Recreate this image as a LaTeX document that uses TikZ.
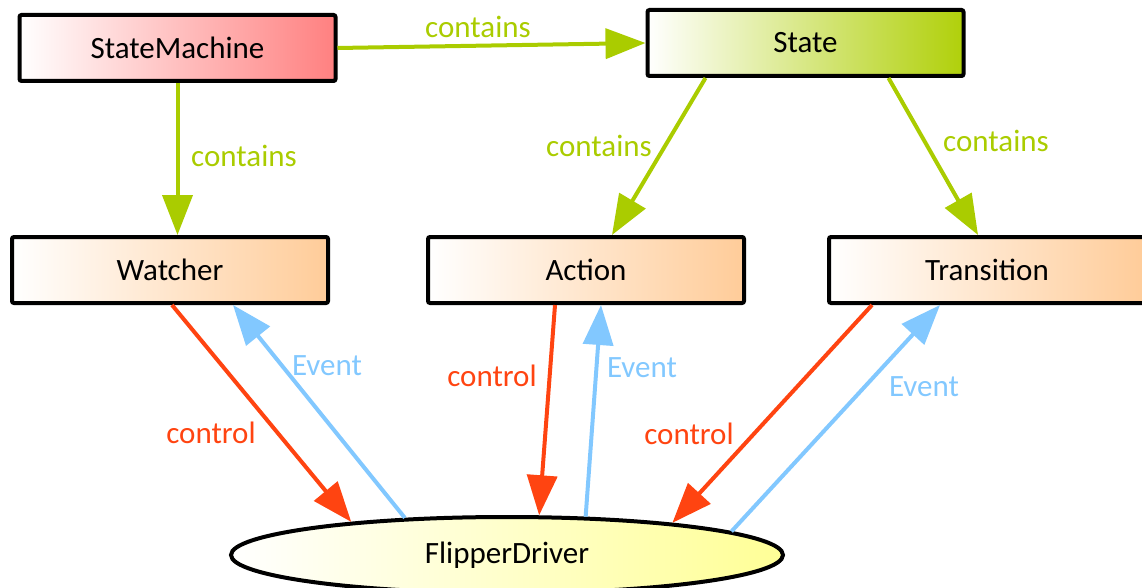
\documentclass[tikz,border=0pt]{standalone}
\usepackage{fontspec}
\setmainfont{Carlito}
\usetikzlibrary{shapes.geometric,arrows.meta}

\definecolor{linkgreen}{RGB}{170,204,0}
\definecolor{ctrlred}{RGB}{255,68,17}
\definecolor{eventblue}{RGB}{130,200,255}
\definecolor{smred}{RGB}{255,128,128}
\definecolor{stgreen}{RGB}{176,208,10}
\definecolor{partorange}{RGB}{255,204,153}
\definecolor{drvyellow}{RGB}{255,255,150}

\tikzset{
  classbox/.style={draw=black, line width=4pt, rounded corners=2pt,
    minimum width=316pt, minimum height=66pt, inner sep=0pt,
    left color=white},
  drvshape/.style={ellipse, draw=black, line width=4pt,
    minimum width=552pt, minimum height=76pt, inner sep=0pt,
    left color=white, right color=drvyellow},
  link/.style={line width=4pt, -{Triangle[length=40pt,width=30pt]}},
  contains/.style={link, draw=linkgreen},
  ctrl/.style={link, draw=ctrlred, fill=ctrlred},
  evt/.style={link, draw=eventblue, fill=eventblue},
  greenlbl/.style={text=linkgreen, inner sep=0pt},
  redlbl/.style={text=ctrlred, inner sep=0pt},
  bluelbl/.style={text=eventblue, inner sep=0pt},
}

\begin{document}
\begin{tikzpicture}[x=1pt, y=-1pt, font=\fontsize{31}{37}\selectfont]
\useasboundingbox (0,0) rectangle (1142,588);

% class boxes
\node[classbox, right color=smred] (sm) at (177.5,48) {StateMachine};
\node[classbox, right color=stgreen] (st) at (805.5,43) {State};
\node[classbox, right color=partorange] (wa) at (170,270) {Watcher};
\node[classbox, right color=partorange] (ac) at (586,270) {Action};
\node[classbox, right color=partorange] (tr) at (987,270) {Transition};

% driver
\node[drvshape] (fd) at (507,555) {FlipperDriver};

% containment
\draw[contains] (sm.east) -- (st.west);
\draw[contains] (sm.south) -- (sm.south |- wa.north);
\draw[contains] ([xshift=-100pt]st.south) -- ([xshift=26pt]ac.north);
\draw[contains] ([xshift=83pt]st.south) -- ([xshift=-9pt]tr.north);

\node[greenlbl] (l1) at (478,27) {contains};
\node[greenlbl] (l2) at (244,156) {contains};
\node[greenlbl] (l3) at (599,146) {contains};
\node[greenlbl] (l4) at (996,141) {contains};

% control and events
\draw[ctrl] ([xshift=2pt]wa.south) -- (fd.168.3);
\draw[evt] (fd.160.8) -- ([xshift=63pt]wa.south);
\draw[ctrl] ([xshift=-31pt]ac.south) -- (fd.51.2);
\draw[evt] (fd.26.3) -- ([xshift=15pt]ac.south);
\draw[ctrl] ([xshift=-115pt]tr.south) -- (fd.11.3);
\draw[evt] (fd.6.4) -- ([xshift=-47pt]tr.south);

\node[redlbl] (c1) at (211,433) {control};
\node[bluelbl] (e1) at (327,366) {Event};
\node[redlbl] (c2) at (492,376) {control};
\node[bluelbl] (e2) at (642,368) {Event};
\node[redlbl] (c3) at (689,434) {control};
\node[bluelbl] (e3) at (924,387) {Event};
\end{tikzpicture}
\end{document}
